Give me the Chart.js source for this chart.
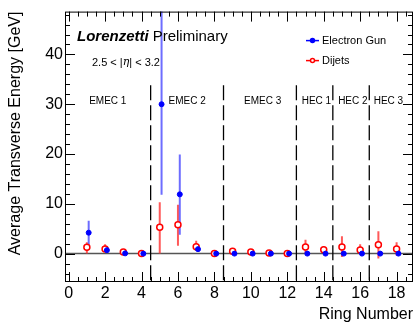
<!DOCTYPE html>
<html>
<head>
<meta charset="UTF-8" />
<title>Ring energy</title>
<style>
body { margin: 0; background: #fff; }
</style>
</head>
<body>
<canvas id="myChart" width="419" height="327"></canvas>
<script src="https://cdn.jsdelivr.net/npm/chart.js@4/dist/chart.umd.min.js"></script>
<script>
// ring numbers
const rings = [1, 2, 3, 4, 5, 6, 7, 8, 9, 10, 11, 12, 13, 14, 15, 16, 17, 18];

// Electron Gun: mean and error band
const gunMean = [4.2, 0.7, 0.05, 0, 30, 11.9, 0.9, 0, 0, 0, 0, 0, 0, 0, 0, 0, 0, 0];
const gunLow  = [1.7, 0.2, 0, 0, 11.8, 3.8, 0.5, 0, 0, 0, 0, 0, 0, 0, 0, 0, 0, 0];
const gunHigh = [6.6, 1.2, 0.1, 0, 60, 19.9, 1.3, 0, 0, 0, 0, 0, 0, 0, 0, 0, 0, 0];

// Dijets
const jetMean = [1.27, 0.93, 0.33, 0, 5.3, 5.8, 1.4, 0, 0.47, 0.33, 0.13, 0, 1.33, 0.8, 1.33, 0.73, 1.8, 0.93];
const jetLow  = [0, 0.3, 0.1, 0, 0, 1.6, 0.6, 0, 0.2, 0.15, 0, 0, 0, 0.3, -0.7, -0.1, -1, -0.4];
const jetHigh = [2.3, 1.9, 0.5, 0, 10.3, 9.8, 2.6, 0, 0.7, 0.5, 0.25, 0, 2.8, 1.5, 3.5, 1.9, 4.5, 2.3];

// calorimeter layer boundaries and names
const boundaries = [4.5, 8.5, 12.5, 14.5, 16.5];
const layerNames = ['EMEC 1', 'EMEC 2', 'EMEC 3', 'HEC 1', 'HEC 2', 'HEC 3'];
const layerCentres = [2.15, 6.5, 10.65, 13.6, 15.6, 17.55];

const xTickLabels = [0, 2, 4, 6, 8, 10, 12, 14, 16, 18];
const yTickLabels = [0, 10, 20, 30, 40];

const gunOffset = 0.1;
const FONT = '"Liberation Sans", Arial, sans-serif';

const errorBars = {
	id: 'errorBars',
	beforeDatasetsDraw(chart) {
		const ctx = chart.ctx, xs = chart.scales.x, ys = chart.scales.y, a = chart.chartArea;
		ctx.save();
		ctx.beginPath();
		ctx.rect(a.left, a.top, a.right - a.left, a.bottom - a.top);
		ctx.clip();

		// zero line
		ctx.strokeStyle = '#555';
		ctx.lineWidth = 1.5;
		ctx.beginPath();
		ctx.moveTo(a.left, ys.getPixelForValue(0));
		ctx.lineTo(a.right, ys.getPixelForValue(0));
		ctx.stroke();

		// dashed boundaries
		ctx.strokeStyle = '#000';
		ctx.lineWidth = 1.3;
		ctx.setLineDash([15, 5]);
		boundaries.forEach(b => {
			ctx.beginPath();
			ctx.moveTo(xs.getPixelForValue(b), ys.getPixelForValue(33.8));
			ctx.lineTo(xs.getPixelForValue(b), a.bottom);
			ctx.stroke();
		});
		ctx.setLineDash([]);

		const bars = [
			{ low: jetLow, high: jetHigh, off: 0, color: 'rgba(255,60,60,0.85)' },
			{ low: gunLow, high: gunHigh, off: gunOffset, color: 'rgba(60,60,255,0.75)' }
		];
		ctx.lineWidth = 2;
		bars.forEach(s => {
			ctx.strokeStyle = s.color;
			rings.forEach((r, i) => {
				if (s.high[i] - s.low[i] <= 0) return;
				const x = xs.getPixelForValue(r + s.off);
				ctx.beginPath();
				ctx.moveTo(x, ys.getPixelForValue(s.low[i]));
				ctx.lineTo(x, ys.getPixelForValue(s.high[i]));
				ctx.stroke();
			});
		});
		ctx.restore();
	},
	afterDraw(chart) {
		const ctx = chart.ctx, xs = chart.scales.x, ys = chart.scales.y, a = chart.chartArea;
		ctx.save();

		// frame
		ctx.strokeStyle = '#000';
		ctx.lineWidth = 1;
		ctx.strokeRect(a.left + 0.5, a.top + 0.5, a.right - a.left - 1, a.bottom - a.top - 1);

		// inner ticks, x
		for (let v = 0; v <= 18.9; v += 0.5) {
			const major = Math.abs(v % 2) < 1e-6;
			const len = major ? 10 : 5;
			const x = Math.round(xs.getPixelForValue(v)) + 0.5;
			ctx.beginPath();
			ctx.moveTo(x, a.bottom); ctx.lineTo(x, a.bottom - len);
			ctx.moveTo(x, a.top); ctx.lineTo(x, a.top + len);
			ctx.stroke();
		}
		// inner ticks, y
		for (let v = -4; v <= 48; v += 2) {
			const major = v % 10 === 0;
			const len = major ? 10 : 5;
			const y = Math.round(ys.getPixelForValue(v)) + 0.5;
			ctx.beginPath();
			ctx.moveTo(a.left, y); ctx.lineTo(a.left + len, y);
			ctx.moveTo(a.right, y); ctx.lineTo(a.right - len, y);
			ctx.stroke();
		}

		// layer names
		ctx.fillStyle = '#000';
		ctx.font = '10px ' + FONT;
		ctx.textAlign = 'center';
		ctx.textBaseline = 'middle';
		layerNames.forEach((n, i) => {
			ctx.fillText(n, xs.getPixelForValue(layerCentres[i]), a.top + 90);
		});

		// title text
		ctx.textAlign = 'left';
		ctx.font = 'italic bold 15px ' + FONT;
		ctx.fillText('Lorenzetti', a.left + 12, a.top + 25);
		const w = ctx.measureText('Lorenzetti').width;
		ctx.font = '15px ' + FONT;
		ctx.fillText('Preliminary', a.left + 12 + w + 4, a.top + 25);

		ctx.font = '11px ' + FONT;
		let tx = a.left + 27;
		const ty = a.top + 51;
		ctx.fillText('2.5 < |', tx, ty);
		tx += ctx.measureText('2.5 < |').width;
		ctx.font = 'italic 11px "DejaVu Serif", serif';
		ctx.fillText('η', tx, ty);
		tx += ctx.measureText('η').width;
		ctx.font = '11px ' + FONT;
		ctx.fillText('| < 3.2', tx, ty);

		// legend
		const items = [
			{ label: chart.data.datasets[0].label, color: '#0000ff', fill: '#0000ff', y: a.top + 29 },
			{ label: chart.data.datasets[1].label, color: '#ff0000', fill: '#fff', y: a.top + 49 }
		];
		items.forEach(it => {
			const lx = a.left + 241;
			ctx.strokeStyle = it.color;
			ctx.lineWidth = 1.5;
			ctx.beginPath();
			ctx.moveTo(lx, it.y); ctx.lineTo(lx + 13, it.y);
			ctx.stroke();
			ctx.fillStyle = it.fill;
			ctx.beginPath();
			ctx.arc(lx + 6.5, it.y, 2, 0, Math.PI * 2);
			ctx.fill();
			ctx.stroke();
			ctx.fillStyle = '#000';
			ctx.font = '11px ' + FONT;
			ctx.textAlign = 'left';
			ctx.fillText(it.label, lx + 16, it.y + 0.5);
		});
		ctx.restore();
	}
};

const data = {
	datasets: [
		{
			label: 'Electron Gun',
			data: rings.map((r, i) => ({ x: r + gunOffset, y: gunMean[i] })),
			pointStyle: 'circle',
			pointRadius: 2.5,
			backgroundColor: '#0000ff',
			borderColor: '#0000ff',
			borderWidth: 1
		},
		{
			label: 'Dijets',
			data: rings.map((r, i) => ({ x: r, y: jetMean[i] })),
			pointStyle: 'circle',
			pointRadius: 3,
			backgroundColor: '#ffffff',
			borderColor: '#ff0000',
			borderWidth: 1.5
		}
	]
};

const config = {
	type: 'scatter',
	data,
	options: {
		responsive: false,
		animation: false,
		devicePixelRatio: 1,
		layout: { padding: { top: 8, right: 6, left: 0, bottom: 0 } },
		plugins: { legend: { display: false }, tooltip: { enabled: false } },
		scales: {
			x: {
				type: 'linear',
				min: -0.2,
				max: 18.9,
				grid: { display: false, drawTicks: false },
				border: { display: false },
				afterBuildTicks: s => { s.ticks = xTickLabels.map(v => ({ value: v })); },
				ticks: { color: '#000', font: { family: FONT, size: 16 }, padding: 2, maxRotation: 0 },
				title: {
					display: true, text: 'Ring Number', align: 'end', color: '#000',
					font: { family: FONT, size: 16 }, padding: { top: 0, bottom: 3 }
				},
				afterFit: s => { s.height = 45; }
			},
			y: {
				type: 'linear',
				min: -5.7,
				max: 48.6,
				grid: { display: false, drawTicks: false },
				border: { display: false },
				afterBuildTicks: s => { s.ticks = yTickLabels.map(v => ({ value: v })); },
				ticks: { color: '#000', font: { family: FONT, size: 16 }, padding: 2 },
				title: {
					display: true, text: 'Average Transverse Energy [GeV]', align: 'end', color: '#000',
					font: { family: FONT, size: 16 }, padding: { top: 6, bottom: 0 }
				},
				afterFit: s => { s.width = 65; }
			}
		}
	},
	plugins: [errorBars]
};

var ctx = document.getElementById('myChart').getContext('2d');
var myChart = new Chart(ctx, config);
</script>
</body>
</html>
